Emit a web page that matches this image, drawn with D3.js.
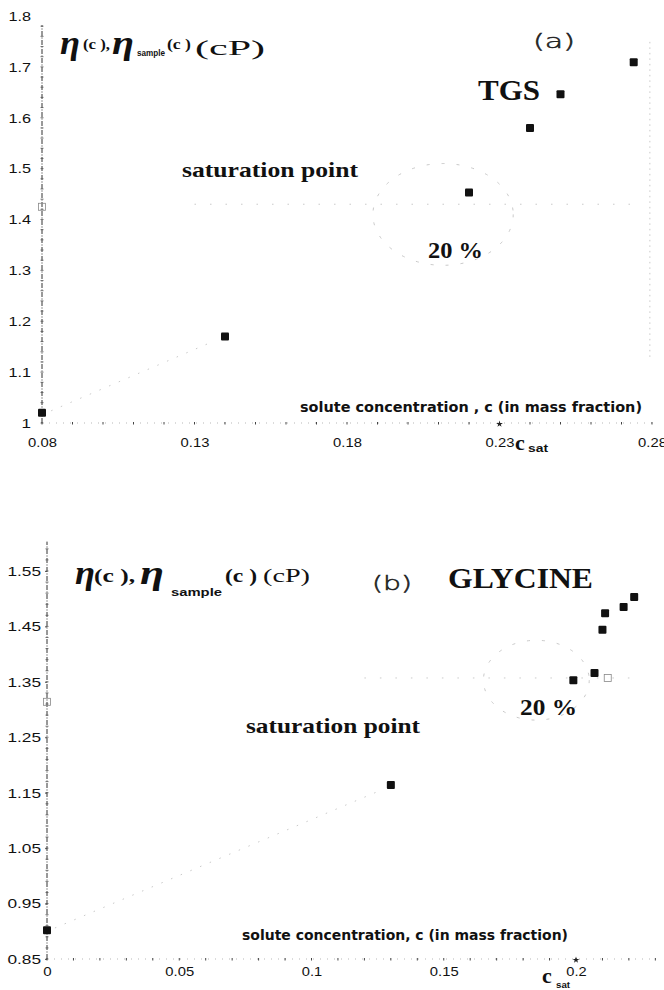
<!DOCTYPE html>
<html>
<head>
<meta charset="utf-8">
<script src="https://cdn.jsdelivr.net/npm/d3@7"></script>
<style>
  body { margin: 0; background: #fff; }
  svg { display: block; }
  .tick text { font-family: "Liberation Sans", Arial, sans-serif; font-size: 13.5px; fill: #111; }
  .serif { font-family: "Liberation Serif", "Times New Roman", serif; fill: #111; }
  .light { font-family: "DejaVu Sans ExtraLight", "DejaVu Sans", sans-serif; font-weight: 200; fill: #222; stroke: #222; stroke-width: 0.5; }
  .cond { font-family: "DejaVu Sans Condensed", "DejaVu Sans", sans-serif; font-weight: bold; fill: #111; }
  .faint { fill: none; stroke: #bbb; stroke-width: 0.8; }
</style>
</head>
<body>
<svg id="chart" width="664" height="990"></svg>
<script>
// ---- panel (a): TGS ----
var tgsConc = [0.08, 0.14, 0.22, 0.24, 0.25, 0.274];
var tgsVisc = [1.02, 1.17, 1.453, 1.58, 1.646, 1.709];
var tgsSampleConc = [0.08];
var tgsSampleVisc = [1.425];
var tgsXTicks = [0.08, 0.13, 0.18, 0.23, 0.28];
var tgsYTicks = [1, 1.1, 1.2, 1.3, 1.4, 1.5, 1.6, 1.7, 1.8];
var tgsCsat = 0.23;
var tgsSatLevel = 1.43;

// ---- panel (b): GLYCINE ----
var glyConc = [0, 0.13, 0.199, 0.207, 0.21, 0.211, 0.218, 0.222];
var glyVisc = [0.902, 1.164, 1.353, 1.366, 1.444, 1.474, 1.485, 1.503];
var glySampleConc = [0, 0.212];
var glySampleVisc = [1.314, 1.357];
var glyXTicks = [0, 0.05, 0.1, 0.15, 0.2];
var glyYTicks = [0.85, 0.95, 1.05, 1.15, 1.25, 1.35, 1.45, 1.55];
var glyCsat = 0.2;
var glySatLevel = 1.357;

var svg = d3.select("#chart");

// stretch the scanned-looking tick digits a little
function widen(sel, digitW) {
  sel.selectAll(".tick text").each(function () {
    var s = this.textContent;
    var n = s.replace(/\./g, "").length, dots = s.length - n;
    d3.select(this).attr("textLength", n * digitW + dots * 3.6).attr("lengthAdjust", "spacingAndGlyphs");
  });
}

function drawPanel(p) {
  var x = d3.scaleLinear().domain(p.xDomain).range(p.xRange),
      y = d3.scaleLinear().domain(p.yDomain).range(p.yRange);
  var g = svg.append("g");
  var y0 = y(p.yDomain[0]);

  // y axis: dash-dot line with small minor ticks
  g.append("line")
    .attr("x1", x(p.xDomain[0])).attr("x2", x(p.xDomain[0]))
    .attr("y1", y0).attr("y2", y(p.yTop))
    .attr("stroke", "#333").attr("stroke-width", 1)
    .attr("stroke-dasharray", "5,1.5,1,1.5");
  g.append("g").selectAll("line")
    .data(d3.range(p.yDomain[0], p.yTop, 0.02))
    .enter().append("line")
    .attr("x1", x(p.xDomain[0]) - 1.5).attr("x2", x(p.xDomain[0]) + 1.5)
    .attr("y1", function (d) { return y(d); }).attr("y2", function (d) { return y(d); })
    .attr("stroke", "#555").attr("stroke-width", 0.8);

  var yAxis = g.append("g")
    .attr("transform", "translate(" + x(p.xDomain[0]) + ",0)")
    .call(d3.axisLeft(y).tickValues(p.yTicks).tickSize(p.yTickSize)
      .tickPadding(p.yPad).tickFormat(p.yFormat));
  yAxis.select(".domain").remove();
  yAxis.selectAll(".tick line").attr("stroke", "#444").attr("stroke-width", 0.8);
  widen(yAxis, p.yDigitW);

  // x axis: dotted with minor ticks every 0.01
  g.append("line")
    .attr("x1", x(p.xDomain[0])).attr("x2", p.xEnd)
    .attr("y1", y0).attr("y2", y0)
    .attr("stroke", "#999").attr("stroke-width", 0.7)
    .attr("stroke-dasharray", "1,6");
  g.append("g").selectAll("line")
    .data(d3.range(p.xDomain[0], x.invert(p.xEnd), 0.01))
    .enter().append("line")
    .attr("x1", function (d) { return x(d); }).attr("x2", function (d) { return x(d); })
    .attr("y1", y0 - 1).attr("y2", y0 + 1.5)
    .attr("stroke", "#444").attr("stroke-width", 1);

  var xAxis = g.append("g")
    .attr("transform", "translate(0," + y0 + ")")
    .call(d3.axisBottom(x).tickValues(p.xTicks).tickSize(0).tickPadding(p.xPad)
      .tickFormat(function (d) { return String(+d.toFixed(3)); }));
  xAxis.select(".domain").remove();
  widen(xAxis, 8.4);

  // faint annotations: fit line, saturation level, circle
  var line = d3.line().x(function (d) { return x(d[0]); }).y(function (d) { return y(d[1]); });
  g.append("path")
    .attr("class", "faint")
    .attr("stroke", p.fitColor)
    .attr("stroke-dasharray", "1.5,9")
    .attr("d", line([[p.conc[0] + 0.003, p.visc[0] + 0.004], [p.conc[1] - 0.004, p.visc[1] - 0.01]]));
  g.append("path")
    .attr("class", "faint")
    .attr("stroke-dasharray", "1.5,14")
    .attr("d", line([[p.satFrom, p.satLevel], [p.satTo, p.satLevel]]));
  g.append("ellipse")
    .attr("class", "faint")
    .attr("stroke-dasharray", "3,12")
    .attr("cx", x(p.ell[0])).attr("cy", y(p.ell[1]))
    .attr("rx", x(p.ell[0] + p.ell[2]) - x(p.ell[0]))
    .attr("ry", y(p.ell[1]) - y(p.ell[1] + p.ell[3]));
  if (p.vLine) {
    g.append("path")
      .attr("class", "faint")
      .attr("stroke", "#999")
      .attr("stroke-dasharray", "1.5,4")
      .attr("d", line([[p.vLine[0], p.vLine[1]], [p.vLine[0], p.vLine[2]]]));
  }

  // open sample squares
  g.append("g").selectAll("rect")
    .data(d3.range(p.sConc.length))
    .enter().append("rect")
    .attr("x", function (i) { return x(p.sConc[i]) - 3.5; })
    .attr("y", function (i) { return y(p.sVisc[i]) - 3.5; })
    .attr("width", 7).attr("height", 7)
    .attr("fill", "none").attr("stroke", "#888").attr("stroke-width", 0.8);

  // measured points
  g.append("g").selectAll("rect")
    .data(d3.range(p.conc.length))
    .enter().append("rect")
    .attr("x", function (i) { return x(p.conc[i]) - 4; })
    .attr("y", function (i) { return y(p.visc[i]) - 4; })
    .attr("width", 8).attr("height", 8).attr("rx", 1)
    .attr("fill", "#111");

  // c_sat marker on the axis
  g.append("path")
    .attr("d", d3.symbol().type(d3.symbolStar).size(14))
    .attr("transform", "translate(" + x(p.csat) + "," + (y0 + 1) + ")")
    .attr("fill", "#222");

  return { x: x, y: y, g: g };
}

function txt(g, cls, s, xx, yy, size, opts) {
  opts = opts || {};
  var t = g.append("text").attr("class", cls).attr("x", xx).attr("y", yy)
    .attr("font-size", size).text(s);
  if (opts.bold) t.attr("font-weight", "bold");
  if (opts.italic) t.attr("font-style", "italic");
  if (opts.len) t.attr("textLength", opts.len).attr("lengthAdjust", "spacingAndGlyphs");
  if (opts.family) t.style("font-family", opts.family);
  return t;
}

var a = drawPanel({
  conc: tgsConc, visc: tgsVisc, sConc: tgsSampleConc, sVisc: tgsSampleVisc,
  xDomain: [0.08, 0.28], xRange: [42, 652], xEnd: 656, xTicks: tgsXTicks, xPad: 14,
  yDomain: [1, 1.8], yRange: [423, 16], yTop: 1.782, yTicks: tgsYTicks,
  yTickSize: 0, yPad: 11, yDigitW: 9.5,
  yFormat: function (d) { return d === 1 ? "1" : d.toFixed(1); },
  csat: tgsCsat, satLevel: tgsSatLevel, satFrom: 0.13, satTo: 0.276,
  ell: [0.2115, 1.41, 0.023, 0.1], vLine: [0.2793, 1.13, 1.75], fitColor: "#d6d6d6"
});

var b = drawPanel({
  conc: glyConc, visc: glyVisc, sConc: glySampleConc, sVisc: glySampleVisc,
  xDomain: [0, 0.2], xRange: [47, 576], xEnd: 656, xTicks: glyXTicks, xPad: 7,
  yDomain: [0.85, 1.55], yRange: [959, 571], yTop: 1.603, yTicks: glyYTicks,
  yTickSize: 2, yPad: 4, yDigitW: 10,
  yFormat: function (d) { return String(d); },
  csat: glyCsat, satLevel: glySatLevel, satFrom: 0.12, satTo: 0.225,
  ell: [0.185, 1.353, 0.02, 0.072], vLine: null, fitColor: "#bbb"
});

// ---- labels, panel (a) ----
var ga = a.g;
txt(ga, "serif", "\u03B7", 60, 54, 34, { bold: true, italic: true, len: 20 });
txt(ga, "serif", "(c ),", 83, 49, 14, { bold: true, len: 27 });
txt(ga, "serif", "\u03B7", 112, 54, 34, { bold: true, italic: true, len: 22 });
txt(ga, "serif", "sample", 137, 56, 8.5, { bold: true, len: 28, family: "Liberation Sans, Arial, sans-serif" });
txt(ga, "serif", "(c )", 167, 49, 14, { bold: true, len: 24 });
txt(ga, "serif", "(cP)", 195, 55, 22, { len: 70 });
txt(ga, "light", "(a)", 533, 48, 20, { len: 42 });
txt(ga, "serif", "TGS", 478, 100, 29, { bold: true, len: 62 });
txt(ga, "serif", "saturation point", 182, 177, 21, { bold: true, len: 176 });
txt(ga, "serif", "20 %", 428, 258, 23, { bold: true, len: 55 });
txt(ga, "cond", "solute concentration , c (in mass fraction)", 300, 412, 14, { len: 342 });
txt(ga, "serif", "c", 515, 450, 22, { bold: true });
txt(ga, "serif", "sat", 528, 452, 11, { bold: true, len: 20, family: "Liberation Sans, Arial, sans-serif" });

// ---- labels, panel (b) ----
var gb = b.g;
txt(gb, "serif", "\u03B7", 75, 584, 34, { bold: true, italic: true, len: 20 });
txt(gb, "serif", "(c ),", 94, 582, 19, { bold: true, len: 41 });
txt(gb, "serif", "\u03B7", 140, 584, 34, { bold: true, italic: true, len: 24 });
txt(gb, "serif", "sample", 171, 596, 10, { bold: true, len: 51, family: "Liberation Sans, Arial, sans-serif" });
txt(gb, "serif", "(c )", 225, 582, 19, { bold: true, len: 32 });
txt(gb, "serif", "(cP)", 263, 582, 19, { len: 47 });
txt(gb, "light", "(b)", 372, 590, 20, { len: 40 });
txt(gb, "serif", "GLYCINE", 448, 588, 29, { bold: true, len: 145 });
txt(gb, "serif", "saturation point", 246, 733, 21, { bold: true, len: 174 });
txt(gb, "serif", "20 %", 520, 715, 23, { bold: true, len: 57 });
txt(gb, "cond", "solute concentration, c (in mass fraction)", 242, 940, 14, { len: 326 });
txt(gb, "serif", "c", 542, 983, 22, { bold: true });
txt(gb, "serif", "sat", 556, 988, 9, { bold: true, len: 14, family: "Liberation Sans, Arial, sans-serif" });
</script>
</body>
</html>
